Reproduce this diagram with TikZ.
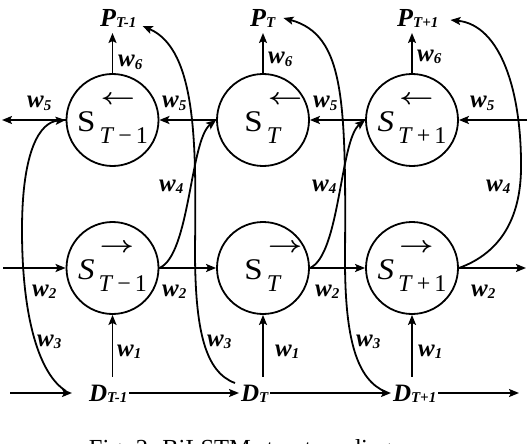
\documentclass[tikz,border=0pt]{standalone}
\usepackage{fontspec}
\usepackage{graphicx}
\setmainfont{Liberation Serif}
\usetikzlibrary{arrows.meta}
% #1 letter, #2 arrow, #3 subscript, #4 extra width after subscript
\newcommand\cellab[4]{%
 {\fontsize{30}{30}\selectfont\scalebox{1.1}[1]{#1}}\hspace{4pt}%
 \rlap{\raisebox{27pt}{\hspace{1pt}\fontsize{10}{12}\selectfont\scalebox{3}[2.3]{\boldmath$#2$}}}%
 \raisebox{-12pt}{\fontsize{24}{24}\selectfont #3}\hspace{#4}}
\newcommand\wsub[1]{w\raisebox{-2pt}{\fontsize{15}{15}\selectfont #1}}
\newcommand\lsub[2]{#1\raisebox{-1pt}{\fontsize{15}{15}\selectfont #2}}
\tikzset{
 arr/.style={line width=1.8pt, -{Stealth[length=10pt,width=8pt,inset=2pt]}},
 cell/.style={circle, draw, line width=1.8pt, minimum size=92pt, inner sep=0pt},
 wlab/.style={anchor=base west, inner sep=0pt, font=\fontsize{25}{25}\selectfont\bfseries\itshape},
 plab/.style={anchor=base west, inner sep=0pt, text depth=0pt, font=\fontsize{26}{26}\selectfont\bfseries\itshape},
 dlab/.style={anchor=west, inner sep=0pt, outer sep=2pt, text height=17pt, text depth=0pt, font=\fontsize{25}{25}\selectfont\bfseries\itshape},
}
\begin{document}
\begin{tikzpicture}[x=1pt,y=-1pt]
\useasboundingbox (0,0) rectangle (528,444);
% cells
\node[cell] (B1) at (112.5,120) {\cellab{S}{\leftarrow}{\textit{T}\hspace{4pt}−\hspace{4pt}1}{0pt}};
\node[cell] (B2) at (263,120) {\cellab{S}{\leftarrow}{\textit{T}}{16pt}};
\node[cell] (B3) at (412,120) {\cellab{\textit{S}}{\leftarrow}{\textit{T}\hspace{4pt}+\hspace{4pt}1}{0pt}};
\node[cell] (F1) at (112.5,268) {\cellab{\textit{S}}{\rightarrow}{\textit{T}\hspace{4pt}−\hspace{4pt}1}{0pt}};
\node[cell] (F2) at (263,268) {\cellab{S}{\rightarrow}{\textit{T}}{16pt}};
\node[cell] (F3) at (412,268) {\cellab{\textit{S}}{\rightarrow}{\textit{T}\hspace{4pt}+\hspace{4pt}1}{0pt}};
% outputs
\node[plab] (P1) at (100,27) {\lsub{P}{T-1}};
\node[plab] (P2) at (250,27) {\lsub{P}{T}};
\node[plab] (P3) at (397,27) {\lsub{P}{T+1}};
% inputs
\node[dlab] (Dm) at (87,393) {\lsub{D}{T-1}};
\node[dlab] (DT) at (239,393) {\lsub{D}{T}};
\node[dlab] (Dp) at (391,393) {\lsub{D}{T+1}};
% free ends
\coordinate (inB) at (527,120);
\coordinate (outB) at (2,120);
\coordinate (inF) at (3,268);
\coordinate (outF) at (526,268);
\coordinate (inD) at (10,393);
\coordinate (outD) at (519,393);
% backward row
\draw[arr] (inB) -- (B3.east);
\draw[arr] (B3.west) -- (B2.east);
\draw[arr] (B2.west) -- (B1.east);
\draw[arr] (B1.west) -- (outB);
% forward row
\draw[arr] (inF) -- (F1.west);
\draw[arr] (F1.east) -- (F2.west);
\draw[arr] (F2.east) -- (F3.west);
\draw[arr] (F3.east) -- (outF);
% input row
\draw[arr, shorten >=15pt] (inD) -- (Dm.west);
\draw[arr] (Dm.east) -- (DT.west);
\draw[arr] (DT.east) -- (Dp.west);
\draw[arr] (Dp.east) -- (outD);
% up arrows
\foreach \c/\d in {F1/Dm, F2/DT, F3/Dp} {
  \draw[arr, shorten <=6pt] (\c.south |- \d.north) -- (\c.south);
}
\foreach \c/\p in {B1/P1, B2/P2, B3/P3} {
  \draw[arr, shorten >=6pt] (\c.north) -- (\c.north |- \p.base);
}
% w3 curves
\draw[arr] ([shift={(-21,-2)}]Dm.west) .. controls (40,375) and (22,320) .. (22,230)
  .. controls (22,150) and (40,122) .. (B1.west);
\draw[arr] ([shift={(-4,-10)}]DT.west) .. controls (205,372) and (195,330) .. (195,250)
  .. controls (196,150) and (198,50) .. ([shift={(6,-1)}]P1.base east);
\draw[arr] ([shift={(-5,-1)}]Dp.west) .. controls (357,380) and (345,340) .. (345,260)
  .. controls (346,100) and (345,35) .. ([shift={(8,-9)}]P2.base east);
% w4 curves
\draw[arr] (F1.east) .. controls (190,255) and (190,140) .. (B2.west);
\draw[arr] (F2.east) .. controls (340,255) and (340,140) .. (B3.west);
\draw[arr] (F3.east) .. controls (495,255) and (520,225) .. (521,170)
  .. controls (522,90) and (500,25) .. ([shift={(12,-7)}]P3.base east);
% weight labels
\node[wlab] (w6a) at (118,67) {\wsub{6}};
\node[wlab] (w6b) at (268,64) {\wsub{6}};
\node[wlab] (w6c) at (417,62) {\wsub{6}};
\node[wlab] (w5a) at (27,108) {\wsub{5}};
\node[wlab] (w5b) at (162,108) {\wsub{5}};
\node[wlab] (w5c) at (313,108) {\wsub{5}};
\node[wlab] (w5d) at (470,108) {\wsub{5}};
\node[wlab] (w4a) at (159,191) {\wsub{4}};
\node[wlab] (w4b) at (312,191) {\wsub{4}};
\node[wlab] (w4c) at (486,191) {\wsub{4}};
\node[wlab] (w2a) at (32,296) {\wsub{2}};
\node[wlab] (w2b) at (162,296) {\wsub{2}};
\node[wlab] (w2c) at (315,296) {\wsub{2}};
\node[wlab] (w2d) at (471,296) {\wsub{2}};
\node[wlab] (w3a) at (37,346) {\wsub{3}};
\node[wlab] (w3b) at (207,346) {\wsub{3}};
\node[wlab] (w3c) at (356,346) {\wsub{3}};
\node[wlab] (w1a) at (117,356) {\wsub{1}};
\node[wlab] (w1b) at (275,356) {\wsub{1}};
\node[wlab] (w1c) at (418,356) {\wsub{1}};
% caption
\node[anchor=base, inner sep=0pt, font=\fontsize{24.5}{25}\selectfont] (cap) at (259,456) {Fig. 2. BiLSTM structure diagram};
\end{tikzpicture}
\end{document}
